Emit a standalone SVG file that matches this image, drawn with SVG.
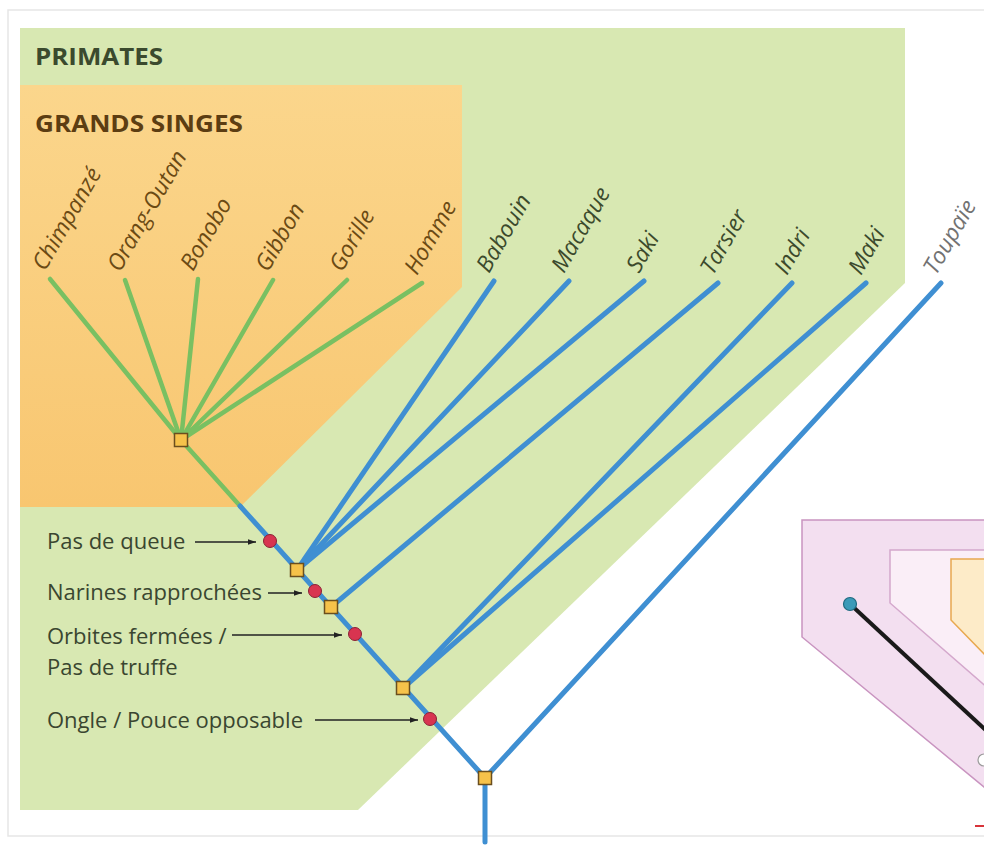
<svg xmlns="http://www.w3.org/2000/svg" width="984" height="846" viewBox="0 0 984 846">
<style>
.lbl{font-family:"Open Sans","Noto Sans","DejaVu Sans",sans-serif;font-size:22px;fill:#3a4630}
.sp{font-family:"Open Sans","Noto Sans","DejaVu Sans",sans-serif;font-size:23px;font-style:italic}
.gs{fill:#6b4a14}
.pr{fill:#3c4a2c}
.tp{fill:#727272}
.title{font-family:"Open Sans","Noto Sans","DejaVu Sans",sans-serif;font-weight:bold;font-size:24px}
.gl{stroke:#79c062;stroke-width:4.5;fill:none;stroke-linecap:round}
.bl{stroke:#3f8fd2;stroke-width:5;fill:none;stroke-linecap:round}
.sq{fill:#f6c24a;stroke:#6a4e1e;stroke-width:1.5}
.dot{fill:#d83450;stroke:#8a2234;stroke-width:1}
.arr{stroke:#222;stroke-width:1.6;fill:none}
</style>
<defs>
<marker id="ah" viewBox="0 0 10 10" refX="10" refY="5" markerWidth="10" markerHeight="8" orient="auto" markerUnits="userSpaceOnUse">
<path d="M0,1.5 L10,5 L0,8.5 Z" fill="#222"/>
</marker>
<linearGradient id="og" x1="0" y1="0" x2="0" y2="1">
<stop offset="0" stop-color="#fbd68c"/>
<stop offset="1" stop-color="#f8c670"/>
</linearGradient>
</defs>
<rect x="0" y="0" width="984" height="846" fill="#ffffff"/>
<rect x="8" y="10" width="990" height="826" fill="none" stroke="#e6e6e6" stroke-width="1.5"/>

<g id="primates">
<polygon points="20,28 905,28 905,283 358,810 20,810" fill="#d8e8b2"/>
<text class="title" x="35" y="65" fill="#3b4a2e" textLength="128" lengthAdjust="spacingAndGlyphs">PRIMATES</text>
</g>
<g id="grands-singes">
<polygon points="20,85 462,85 462,287 240,507 20,507" fill="url(#og)"/>
<text class="title" x="35" y="132" fill="#5c3d12" textLength="208" lengthAdjust="spacingAndGlyphs">GRANDS SINGES</text>
</g>

<g id="legend-box">
<polygon points="802,520 990,520 990,792 802,637" fill="#f3dff0" stroke="#c994c0" stroke-width="1.5"/>
<polygon points="890,550 990,550 990,690 890,603" fill="#faeef7" stroke="#d4a8cc" stroke-width="1.5"/>
<polygon points="951,559 990,559 990,660 951,620" fill="#fdebc8" stroke="#e8a850" stroke-width="1.5"/>
<line x1="850" y1="604" x2="990" y2="734" stroke="#1a1a1a" stroke-width="4"/>
<circle cx="850" cy="604" r="6.5" fill="#3a9ab8" stroke="#1f6a80" stroke-width="1.2"/>
<circle cx="984" cy="760" r="6" fill="#ffffff" stroke="#9a9a9a" stroke-width="1.2"/>
<line x1="975" y1="826" x2="984" y2="826" stroke="#d8343a" stroke-width="2"/>
</g>

<g id="connectors">
<line class="gl" x1="181" y1="440" x2="50" y2="279"/>
<line class="gl" x1="181" y1="440" x2="125" y2="280"/>
<line class="gl" x1="181" y1="440" x2="198" y2="279"/>
<line class="gl" x1="181" y1="440" x2="273" y2="280"/>
<line class="gl" x1="181" y1="440" x2="347" y2="280"/>
<line class="gl" x1="181" y1="440" x2="422" y2="283"/>
<line class="gl" x1="181" y1="440" x2="241" y2="507"/>
<line class="bl" x1="240" y1="506" x2="485" y2="778"/>
<line class="bl" x1="485" y1="778" x2="485" y2="842"/>
<line class="bl" x1="485" y1="778" x2="941" y2="283"/>
<line class="bl" x1="297" y1="570" x2="494" y2="281"/>
<line class="bl" x1="297" y1="570" x2="569" y2="281"/>
<line class="bl" x1="297" y1="570" x2="644" y2="281"/>
<line class="bl" x1="331" y1="607" x2="718" y2="283"/>
<line class="bl" x1="403" y1="688" x2="792" y2="283"/>
<line class="bl" x1="403" y1="688" x2="866" y2="283"/>
<line class="arr" x1="195" y1="542" x2="256" y2="542" marker-end="url(#ah)"/>
<line class="arr" x1="268" y1="593" x2="302" y2="593" marker-end="url(#ah)"/>
<line class="arr" x1="232" y1="635" x2="342" y2="635" marker-end="url(#ah)"/>
<line class="arr" x1="315" y1="720" x2="418" y2="720" marker-end="url(#ah)"/>
</g>

<g id="nodes">
<rect class="sq" x="174.5" y="433.5" width="13" height="13"/>
<rect class="sq" x="290.5" y="563.5" width="13" height="13"/>
<rect class="sq" x="324.5" y="600.5" width="13" height="13"/>
<rect class="sq" x="396.5" y="681.5" width="13" height="13"/>
<rect class="sq" x="478.5" y="771.5" width="13" height="13"/>
<circle class="dot" cx="270" cy="541" r="6.5"/>
<circle class="dot" cx="315" cy="591" r="6.5"/>
<circle class="dot" cx="355" cy="634" r="6.5"/>
<circle class="dot" cx="430" cy="719" r="6.5"/>
</g>

<g id="species">
<text class="sp gs" transform="translate(45,272) rotate(-60)">Chimpanzé</text>
<text class="sp gs" transform="translate(120,273) rotate(-60)">Orang-Outan</text>
<text class="sp gs" transform="translate(193,272) rotate(-60)">Bonobo</text>
<text class="sp gs" transform="translate(268,273) rotate(-60)">Gibbon</text>
<text class="sp gs" transform="translate(342,273) rotate(-60)">Gorille</text>
<text class="sp gs" transform="translate(417,276) rotate(-60)">Homme</text>
<text class="sp pr" transform="translate(489,274) rotate(-60)">Babouin</text>
<text class="sp pr" transform="translate(564,274) rotate(-60)">Macaque</text>
<text class="sp pr" transform="translate(639,274) rotate(-60)">Saki</text>
<text class="sp pr" transform="translate(713,276) rotate(-60)">Tarsier</text>
<text class="sp pr" transform="translate(787,276) rotate(-60)">Indri</text>
<text class="sp pr" transform="translate(861,276) rotate(-60)">Maki</text>
<text class="sp tp" transform="translate(936,276) rotate(-60)">Toupaïe</text>
</g>

<g id="traits">
<text class="lbl" x="47" y="549">Pas de queue</text>
<text class="lbl" x="47" y="600">Narines rapprochées</text>
<text class="lbl" x="47" y="644">Orbites fermées /</text>
<text class="lbl" x="47" y="675">Pas de truffe</text>
<text class="lbl" x="47" y="728">Ongle / Pouce opposable</text>
</g>
</svg>
